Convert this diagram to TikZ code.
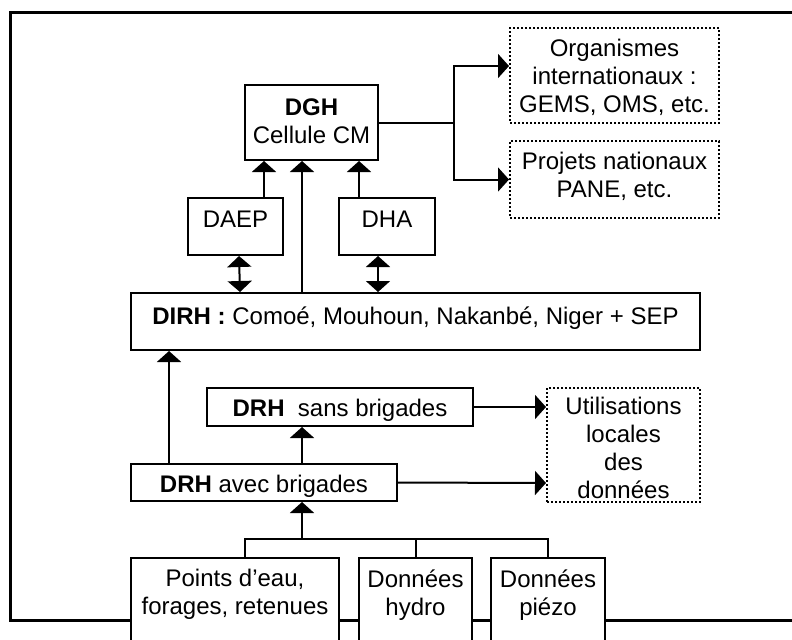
\documentclass[tikz,border=0pt]{standalone}
\usepackage{fontspec}
\setmainfont{Liberation Sans}
\usetikzlibrary{arrows.meta,positioning}

\tikzset{
  box/.style={draw, line width=1pt, fill=white, inner sep=0pt},
  outbox/.style={box, densely dotted},
  txt/.style={inner sep=0pt, align=center},
  link/.style={line width=1pt, -{Triangle[width=12pt,length=5.5pt]}},
  twoway/.style={line width=1pt, {Triangle[width=12pt,length=5.5pt]}-{Triangle[width=12pt,length=5.5pt]}},
  bar/.style={line width=1pt}
}

\begin{document}
\begin{tikzpicture}[x=0.5pt, y=-0.5pt, font=\fontsize{12}{14}\selectfont]
\useasboundingbox (0,0) rectangle (792,639);

% cadre
\draw[line width=1.5pt] (792,12) -- (10,12) -- (10,620) -- (792,620);

% boites
\node[box, minimum width=66.5pt, minimum height=37.5pt] (dgh) at (311.5,122.5) {};
\node[box, minimum width=47.5pt, minimum height=28.5pt] (daep) at (235.5,226.5) {};
\node[box, minimum width=48pt, minimum height=28.5pt] (dha) at (387,226.5) {};
\node[box, minimum width=284.5pt, minimum height=28.5pt] (dirh) at (415.5,321.5) {};
\node[outbox, minimum width=104.5pt, minimum height=47.5pt] (org) at (614.5,75.5) {};
\node[outbox, minimum width=104.5pt, minimum height=38.5pt] (proj) at (614.5,179.5) {};
\node[box, minimum width=133pt, minimum height=19pt] (sans) at (340,407) {};
\node[box, minimum width=133pt, minimum height=18.5pt] (avec) at (264,482.5) {};
\node[outbox, minimum width=76.5pt, minimum height=57pt] (util) at (623.5,445) {};
\node[box, minimum width=104pt, minimum height=61pt] (points) at (235,619) {};
\node[box, minimum width=56.5pt, minimum height=61pt] (hydro) at (415.5,619) {};
\node[box, minimum width=57pt, minimum height=61pt] (piezo) at (548,619) {};

% textes
\node[txt, below=7pt of dgh.north] (dgh-t) {\textbf{DGH}\\Cellule CM};
\node[txt, below=7pt of daep.north] (daep-t) {DAEP};
\node[txt, below=7pt of dha.north] (dha-t) {DHA};
\node[txt, below=7pt of dirh.north] (dirh-t) {\textbf{DIRH :} Comoé, Mouhoun, Nakanbé, Niger + SEP};
\node[txt, below=6pt of org.north] (org-t) {Organismes\\internationaux :\\GEMS, OMS, etc.};
\node[txt, below=6pt of proj.north] (proj-t) {Projets nationaux\\PANE, etc.};
\node[txt, below=6pt of sans.north] (sans-t) {\textbf{DRH}~ sans brigades};
\node[txt, below=6pt of avec.north] (avec-t) {\textbf{DRH} avec brigades};
\node[txt, below=5pt of util.north] (util-t) {Utilisations\\locales\\des\\données};
\node[txt, below=6pt of points.north] (points-t) {Points d’eau,\\forages, retenues};
\node[txt, below=6pt of hydro.north] (hydro-t) {Données\\hydro};
\node[txt, below=6pt of piezo.north] (piezo-t) {Données\\piézo};

% liaisons
\draw[link] ([xshift=14.25pt]daep.north) -- ([xshift=-23.75pt]dgh.south);
\draw[link] ([xshift=-56.75pt]dirh.north) -- ([xshift=-4.75pt]dgh.south);
\draw[link] ([xshift=-14pt]dha.north) -- ([xshift=23.75pt]dgh.south);
\draw[twoway] ([xshift=1.75pt]daep.south) -- ([xshift=-87.75pt]dirh.north);
\draw[twoway] ([xshift=-4.5pt]dha.south) -- ([xshift=-18.75pt]dirh.north);
\draw[link] (dgh.east) -- ++(37.5pt,0) |- ([yshift=4.75pt]org.west);
\draw[link] (dgh.east) -- ++(37.5pt,0) |- (proj.west);
\draw[link] ([xshift=-47.5pt]avec.north) -- ([xshift=-123.25pt]dirh.south);
\draw[link] ([xshift=19pt]avec.north) -- ([xshift=-19pt]sans.south);
\draw[link] (sans.east) -- ([yshift=19pt]util.west);
\draw[link] (avec.east) -- ([yshift=-19pt]util.west);

% collecte
\coordinate (bus) at (302,539);
\draw[link] (bus) -- ([xshift=19pt]avec.south);
\draw[bar] ([xshift=5pt]points.north) |- (bus) -| (piezo.north);
\draw[bar] (hydro.north) -- (hydro.north |- bus);
\end{tikzpicture}
\end{document}
